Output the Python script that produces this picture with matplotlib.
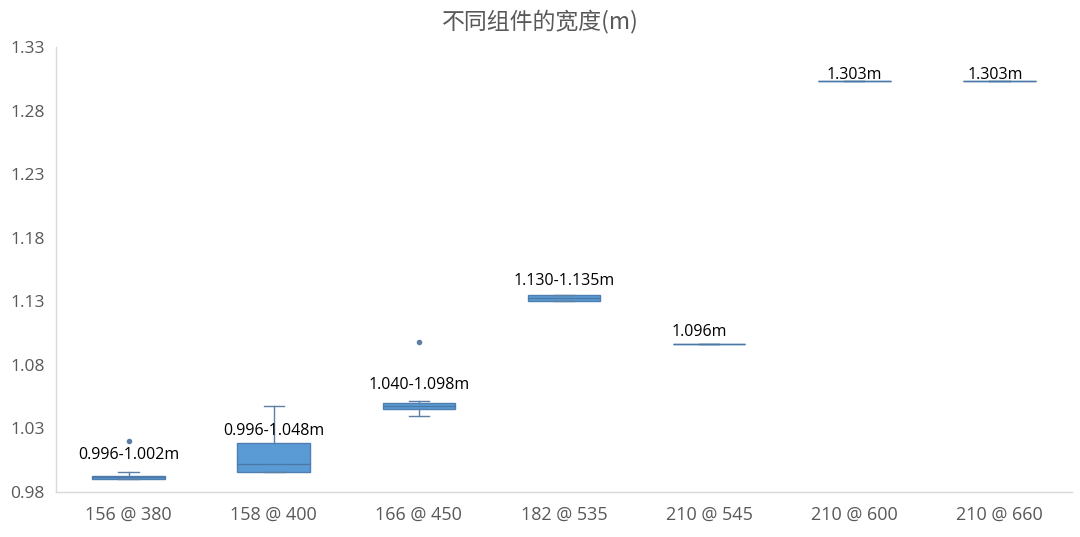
import matplotlib
matplotlib.use("Agg")
import matplotlib.pyplot as plt

# categories and box statistics
categories = ["156 @ 380", "158 @ 400", "166 @ 450", "182 @ 535",
              "210 @ 545", "210 @ 600", "210 @ 660"]
whislo = [0.9905, 0.9960, 1.0398, 1.1304, 1.0963, 1.3030, 1.3030]
q1 = [0.9905, 0.9960, 1.0455, 1.1304, 1.0963, 1.3030, 1.3030]
med = [0.9915, 1.0018, 1.0480, 1.1325, 1.0963, 1.3030, 1.3030]
q3 = [0.9926, 1.0188, 1.0502, 1.1349, 1.0963, 1.3030, 1.3030]
whishi = [0.9957, 1.0476, 1.0518, 1.1349, 1.0963, 1.3030, 1.3030]
fliers = [[1.020], [], [1.0982], [], [], [], []]
range_labels = ["0.996-1.002m", "0.996-1.048m", "1.040-1.098m", "1.130-1.135m",
                "1.096m", "1.303m", "1.303m"]
yticks = [0.98, 1.03, 1.08, 1.13, 1.18, 1.23, 1.28, 1.33]

# label offsets in pixels from (box centre, q3)
label_dx = [0, 0, 0, 0, -10, 0, -4]
label_dy = [21, 12, 18, 14, 12, 6, 6]

num_font = "Open Sans"
cjk_font = ["Noto Sans CJK SC", "DejaVu Sans"]
grey = "#595959"
box_blue = "#5B9BD5"
edge_blue = "#4F7FAE"
line_blue = "#5E7FA3"

fig = plt.figure(figsize=(10.8, 5.37), dpi=100)
ax = fig.add_axes([56 / 1080, 1 - 492 / 537, (1072 - 56) / 1080, (492 - 47) / 537])

stats = []
for i in range(len(categories)):
    stats.append(dict(whislo=whislo[i], q1=q1[i], med=med[i], q3=q3[i],
                      whishi=whishi[i], fliers=fliers[i], label=categories[i]))

ax.bxp(stats, positions=range(len(categories)), widths=0.5, capwidths=0.14,
       patch_artist=True, showfliers=True,
       boxprops=dict(facecolor=box_blue, edgecolor=edge_blue, linewidth=1),
       medianprops=dict(color="#4A79A8", linewidth=1),
       whiskerprops=dict(color=line_blue, linewidth=1),
       capprops=dict(color=line_blue, linewidth=1),
       flierprops=dict(marker="o", markersize=3, markerfacecolor=line_blue,
                       markeredgecolor=line_blue))

for i, txt in enumerate(range_labels):
    ax.annotate(txt, xy=(i, q3[i]), xytext=(label_dx[i], label_dy[i]),
                textcoords="offset pixels", ha="center", va="center",
                fontsize=11.5, color="black", family=num_font)

ax.set_xlim(-0.5, len(categories) - 0.5)
ax.set_ylim(0.98, 1.33)
ax.set_yticks(yticks)
ax.set_yticklabels(["%.2f" % v for v in yticks], family=num_font, fontsize=12.5, color=grey)
ax.set_xticks(range(len(categories)))
ax.set_xticklabels(categories, family=num_font, fontsize=13, color=grey)
ax.tick_params(axis="both", length=0)
ax.tick_params(axis="y", pad=8)
ax.tick_params(axis="x", pad=10)

for side in ["top", "right"]:
    ax.spines[side].set_visible(False)
for side in ["left", "bottom"]:
    ax.spines[side].set_color("#D9D9D9")
    ax.spines[side].set_linewidth(1)

fig.text(540 / 1080, 1 - 21 / 537, "不同组件的宽度(m)", ha="center", va="center",
         fontsize=16.5, color=grey, family=cjk_font)

fig.savefig("out.png", dpi=100)
